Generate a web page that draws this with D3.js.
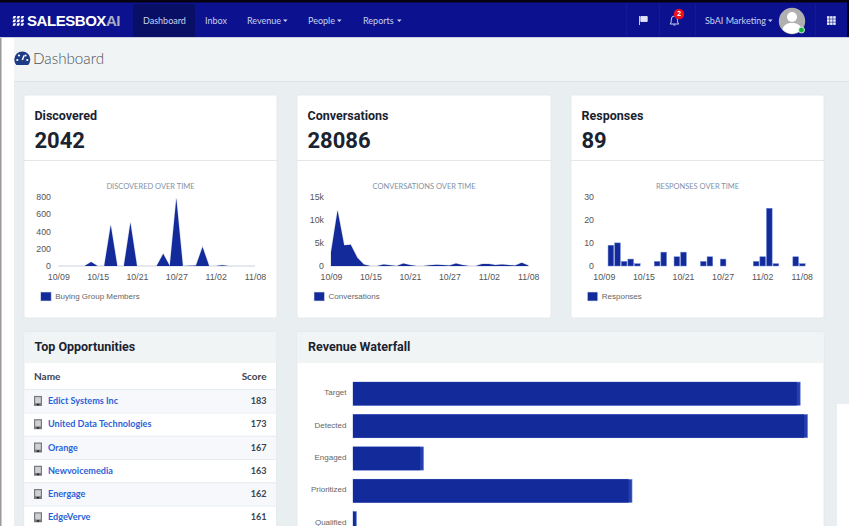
<!DOCTYPE html>
<html><head><meta charset="utf-8">
<script src="https://cdn.jsdelivr.net/npm/d3@7"></script>
<style>html,body{margin:0;padding:0;background:#fff;overflow:hidden}svg{display:block}text{font-family:"Noto Sans",sans-serif}</style>
</head><body><svg id="c" width="849" height="526"></svg>
<script>
const days=["10/09","10/10","10/11","10/12","10/13","10/14","10/15","10/16","10/17","10/18","10/19","10/20","10/21","10/22","10/23","10/24","10/25","10/26","10/27","10/28","10/29","10/30","10/31","11/01","11/02","11/03","11/04","11/05","11/06","11/07","11/08"];
const tickDays=["10/09","10/15","10/21","10/27","11/02","11/08"];
const discovered=[0,0,0,0,0,45,0,0,470,0,0,500,0,0,0,0,140,0,780,0,3,5,220,0,0,10,0,0,0,0,0];
const conversations=[3000,12000,4500,4600,1800,300,0,0,350,150,0,550,200,0,0,150,250,200,100,550,200,0,0,450,450,200,350,200,100,700,100];
const responses=[0,9,10,2,3,1,0,0,2,6,0,4,6,0,0,2,4,0,3,0,0,0,0,2,4,25,1,0,0,4,1];
const navItems=["Dashboard","Inbox","Revenue","People","Reports"];
const oppNames=["Edict Systems Inc","United Data Technologies","Orange","Newvoicemedia","Energage","EdgeVerve"];
const oppScores=[183,173,167,163,162,161];
const stages=["Target","Detected","Engaged","Prioritized","Qualified"];
const stageMain=[439.600,447,66.600,273,2.500];
const stageEnd=[3.400,3.400,3.400,3.400,1];

const NAVY="#0c118f",BAR="#132b9a",PAGE="#e9eef1",HEAD="#f0f4f5",CHART="Liberation Sans",UI="Lato";
const svg=d3.select("#c");
const rect=(x,y,w,h,f)=>svg.append("rect").attr("x",x).attr("y",y).attr("width",w).attr("height",h).attr("fill",f);
const text=(s,x,y,o={})=>svg.append("text").text(s).attr("x",x).attr("y",y).attr("dy",".35em")
  .attr("font-size",o.size||9).attr("font-weight",o.weight||400).attr("fill",o.fill||"#333")
  .attr("text-anchor",o.anchor||"start").style("font-family",o.font||UI);

// page shell
rect(0,0,849,526,"#fff");
rect(14,37,835,489,PAGE);
rect(14,38,835,43,HEAD);
rect(14,81,835,1,"#dfe4e7");
rect(0,37,1.500,489,"#9a9a9a");
rect(837,404,12,122,"#fff");
rect(0,2,849,35,NAVY);
rect(0,0,849,2.500,"#05030f");
rect(847,0,2,37,"#05030f");
rect(0,37,849,1,"#c9cde0");

// nav
rect(133,4,62,33,"#0a0f66");
const navX=[143,205,247,308,363];
const caretX=[283,337,397];
navItems.forEach((n,i)=>{
  text(n,navX[i],20.500,{size:9,fill:"#c9d2ee"});
  if(i>=2) svg.append("path").attr("d",`M${caretX[i-2]} 19.500h4.600l-2.300 2.400z`).attr("fill","#c9d2ee");
});
// logo
const logoG=svg.append("g").attr("fill","#fff");
d3.range(3).forEach(r=>d3.range(3).forEach(c=>{
  logoG.append("path").attr("d",`M${13.500+c*4} ${16+r*3.600}l2.600 0l-1 2.600l-2.600 0z`);
}));
svg.append("text").attr("x",27).attr("y",26.300).attr("font-size",15).attr("font-weight",700).style("font-family","Liberation Sans").attr("letter-spacing","-0.45")
  .call(t=>{t.append("tspan").attr("fill","#fff").text("SALESBOX");t.append("tspan").attr("fill","#a9adc4").text("AI");});
// right side of nav
[626,659,695,815].forEach(x=>rect(x,3,.8,34,"#161c9c"));
svg.append("path").attr("d","M639.500 16v9M640.800 16.500h6.400v5h-6.400z").attr("stroke","#dfe4f6").attr("stroke-width",.9).attr("fill","#dfe4f6");
svg.append("path").attr("d","M670 24c1.500-1 1-2.500 1.400-5a3 3 0 0 1 6 0c.3 2.500 0 4 1.400 5zM673.400 25h2").attr("fill","none").attr("stroke","#dfe4f6").attr("stroke-width",.9);
svg.append("circle").attr("cx",679).attr("cy",14).attr("r",5.200).attr("fill","#ee0f1f");
text("2",679,14,{size:7,weight:700,fill:"#fff",anchor:"middle",font:"Noto Sans"});
text("SbAI Marketing",705,20.500,{size:9,fill:"#c9d2ee"});
svg.append("path").attr("d","M768 19.500h4.600l-2.300 2.400z").attr("fill","#c9d2ee");
svg.append("circle").attr("cx",792).attr("cy",21).attr("r",13.200).attr("fill","#b0b0b0");
svg.append("circle").attr("cx",792).attr("cy",17).attr("r",5).attr("fill","#fff");
svg.append("path").attr("d","M782.500 29.500c1-5 5-6.500 9.500-6.500s8.500 1.500 9.500 6.500a13 13 0 0 1-19 0z").attr("fill","#fff");
svg.append("circle").attr("cx",801.500).attr("cy",30).attr("r",3).attr("fill","#19b53a").attr("stroke","#fff").attr("stroke-width",.8);
d3.range(3).forEach(r=>d3.range(3).forEach(c=>rect(827+c*3.100,16.200+r*3.100,2.500,2.500,"#eef0fb")));

// page title
svg.append("circle").attr("cx",22.300).attr("cy",59.500).attr("r",8).attr("fill","#1c3a86");
rect(15,65,15,3,HEAD);
svg.append("path").attr("d","M22.300 60l1.800-4.500").attr("stroke","#fff").attr("stroke-width",1.500);
[[17.300,60],[19,55.500],[25.500,55.500],[27.300,60]].forEach(p=>svg.append("circle").attr("cx",p[0]).attr("cy",p[1]).attr("r",1.100).attr("fill","#fff"));
text("Dashboard",33,58.500,{size:15.200,weight:300,fill:"#4e5258"});

// KPI cards
function card(x,y,w,h){return rect(x,y,w,h,"#fff").attr("stroke","#e1e6ea").attr("stroke-width",.8).attr("rx",2);}
const kpis=[
 {x:24,w:253,t:"Discovered",n:"2042",ct:"DISCOVERED OVER TIME",leg:"Buying Group Members"},
 {x:297,w:254,t:"Conversations",n:"28086",ct:"CONVERSATIONS OVER TIME",leg:"Conversations"},
 {x:571,w:253,t:"Responses",n:"89",ct:"RESPONSES OVER TIME",leg:"Responses"}];
kpis.forEach(k=>{
  card(k.x,95,k.w,223);
  rect(k.x,160,k.w,1,"#e3e7ea");
  text(k.t,k.x+10.500,116,{size:12.500,weight:700,fill:"#1b2330",font:"Roboto"});
  text(k.n,k.x+10.500,140,{size:22,weight:700,fill:"#1b2330",font:"Roboto"});
  text(k.ct,k.x+k.w/2,186,{size:7.500,fill:"#7f92a6",anchor:"middle"});
});

function axes(g,x,y,yTicks,fmt,tx){
  const ax=d3.axisBottom(x).tickValues(tickDays).tickSize(0).tickPadding(8);
  const xa=g.append("g").attr("transform","translate(0,266)").call(ax);
  xa.select(".domain").remove();
  const ya=g.append("g").attr("transform",`translate(${tx},0)`).call(d3.axisLeft(y).tickValues(yTicks).tickFormat(fmt).tickSize(0).tickPadding(0));
  ya.select(".domain").remove();
  g.selectAll(".tick text").attr("fill","#555").attr("font-size",8.800).style("font-family",CHART);
}
function legend(x,label){
  rect(x,292,10.500,9,BAR).attr("stroke","#dfe3f0").attr("stroke-width",.6);
  text(label,x+14.500,296.500,{size:8,fill:"#666",font:CHART});
}
function areaChart(vals,x0,x1,yMax,yTicks,fmt,tx){
  const g=svg.append("g");
  const x=d3.scalePoint().domain(days).range([x0,x1]);
  const y=d3.scaleLinear().domain([0,yMax]).range([266,196.700]);
  const a=d3.area().x((d,i)=>x(days[i])).y0(y(0)).y1(d=>y(d));
  g.append("path").datum(vals).attr("d",a).attr("fill",BAR).attr("stroke","#dde1e9").attr("stroke-width",1.400).style("paint-order","stroke");
  axes(g,x,y,yTicks,fmt,tx);
}
const kfmt=d=>d===0?"0":(d/1000)+"k";
areaChart(discovered,58.300,255,800,[0,200,400,600,800],d3.format("d"),51);
legend(40.700,kpis[0].leg);
areaChart(conversations,331,528.300,15000,[0,5000,10000,15000],kfmt,324);
legend(314,kpis[1].leg);
{
  const g=svg.append("g");
  const step=198/30;
  const x=d3.scaleBand().domain(days).range([604.300-step/2,802.300+step/2]).paddingInner(.14).paddingOuter(.07);
  const y=d3.scaleLinear().domain([0,30]).range([266,196.700]);
  g.selectAll("rect").data(responses).join("rect")
    .attr("x",(d,i)=>x(days[i])).attr("width",x.bandwidth())
    .attr("y",d=>y(d)).attr("height",d=>y(0)-y(d))
    .attr("fill",BAR).attr("stroke","#6f86d6").attr("stroke-width",d=>d?.5:0);
  axes(g,x,y,[0,10,20,30],d3.format("d"),594);
  legend(587.300,kpis[2].leg);
}

// Top Opportunities
card(24,332,252.500,210);
rect(24.400,332.400,251.700,30.600,HEAD);
text("Top Opportunities",34.500,347,{size:12.500,weight:700,fill:"#1b2330",font:"Roboto"});
text("Name",34,376,{size:10,weight:700,fill:"#3c4450"});
text("Score",266.500,376,{size:10,weight:700,fill:"#3c4450",anchor:"end"});
const rowY=d3.scaleBand().domain(oppNames).range([389.300,389.300+23.270*6]);
oppNames.forEach((n,i)=>{
  const y0=rowY(n),h=rowY.bandwidth();
  rect(24.400,y0,251.700,h,i%2?"#fff":"#f6f8fb");
  rect(24.400,y0,251.700,.8,"#e3e7ee");
  const cy=y0+h/2;
  rect(34,cy-5,8,10,"#77797e");
  rect(35.200,cy-3.800,5.600,6,"#cfd0d3");
  rect(36.800,cy+3,2.400,1.400,"#222");
  text(n,48,cy,{size:9.100,weight:700,fill:"#2a62d8"});
  text(oppScores[i],266.500,cy,{size:9.100,weight:700,fill:"#3c4450",anchor:"end"});
});

// Revenue Waterfall
card(297,332,527,210);
rect(297.400,332.400,526.200,30.600,HEAD);
text("Revenue Waterfall",308,347,{size:12.500,weight:700,fill:"#1b2330",font:"Roboto"});
{
  const g=svg.append("g");
  const x=d3.scaleLinear().domain([0,450.400]).range([353,807.700]);
  const y=d3.scaleBand().domain(stages).range([377.500,377.500+162]).paddingInner(.28).paddingOuter(.14);
  stages.forEach((s,i)=>{
    const top=y(s),h=y.bandwidth();
    g.append("rect").attr("x",x(0)).attr("y",top).attr("width",x(stageMain[i]+stageEnd[i])-x(0)).attr("height",h).attr("fill","#2440ac").attr("stroke","#7a90dc").attr("stroke-width",.6);
    g.append("rect").attr("x",x(0)).attr("y",top).attr("width",x(stageMain[i])-x(0)).attr("height",h).attr("fill",BAR);
  });
  const ya=g.append("g").attr("transform","translate(346.500,-1)").call(d3.axisLeft(y).tickSize(0).tickPadding(0));
  ya.select(".domain").remove();
  ya.selectAll("text").attr("fill","#666").attr("font-size",8).style("font-family",CHART);
}
</script></body></html>
